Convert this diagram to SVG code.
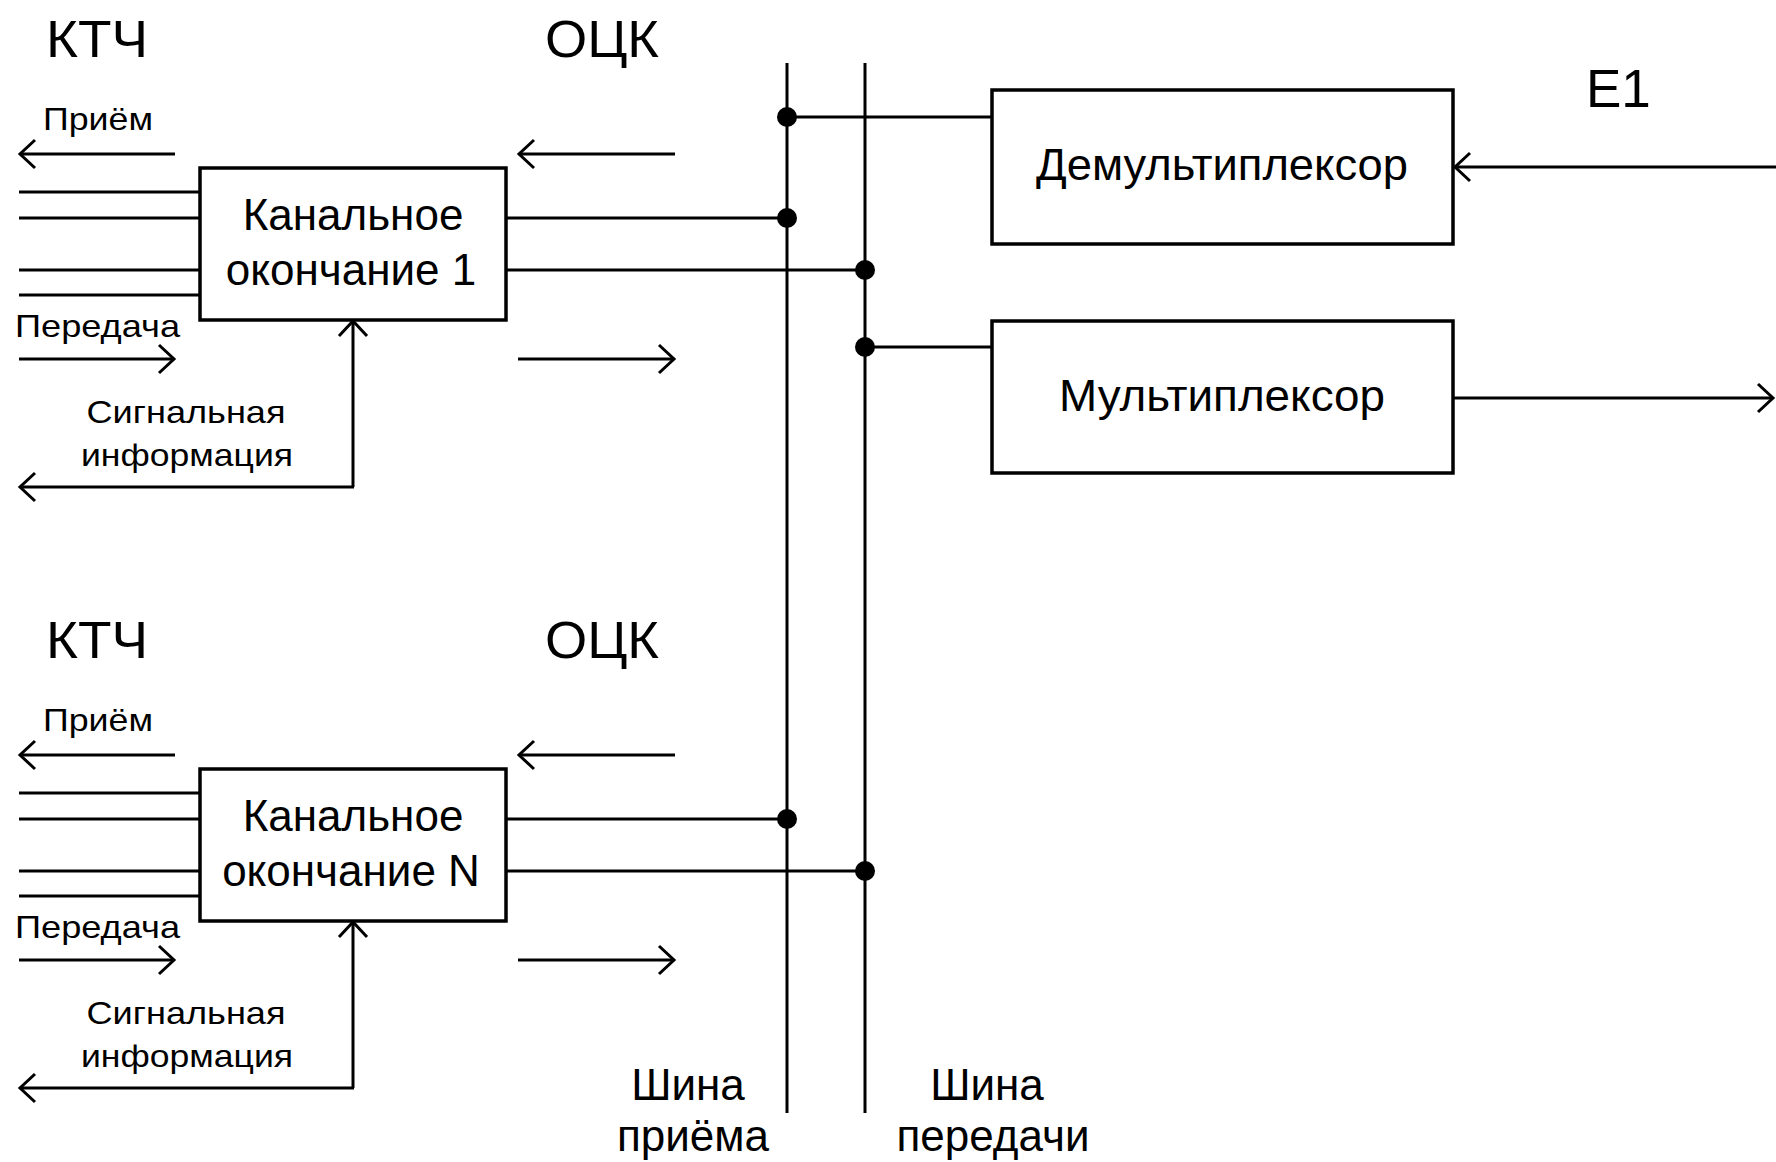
<svg xmlns="http://www.w3.org/2000/svg" width="1776" height="1162" viewBox="0 0 1776 1162">
  <style>
    .ln { stroke: #000; stroke-width: 3; fill: none; }
    .box { stroke: #000; stroke-width: 3.5; fill: #fff; }
    .arr { stroke: #000; stroke-width: 3; fill: none; marker-end: url(#chev); }
    .dot { fill: #000; }
    text { font-family: "Liberation Sans", Arial, sans-serif; fill: #000; }
    .big { font-size: 52px; }
    .mid { font-size: 44px; }
    .sm { font-size: 32px; }
    .c { text-anchor: middle; }
  </style>
  <defs>
    <marker id="chev" markerUnits="userSpaceOnUse" viewBox="-18 -16 20 32" markerWidth="20" markerHeight="32" refX="0" refY="0" orient="auto" overflow="visible">
      <path d="M-15,-14 L0,0 L-15,14" fill="none" stroke="#000" stroke-width="3"/>
    </marker>
  </defs>
  <rect width="1776" height="1162" fill="#fff"/>

  <!-- connectors -->
  <g id="connectors">
    <!-- buses -->
    <line class="ln" x1="787" y1="63" x2="787" y2="1113"/>
    <line class="ln" x1="865" y1="63" x2="865" y2="1113"/>
    <!-- bus taps: demux / mux -->
    <line class="ln" x1="787" y1="117" x2="992" y2="117"/>
    <line class="ln" x1="865" y1="347" x2="992" y2="347"/>
    <!-- E1 in / out -->
    <line class="arr" x1="1776" y1="167" x2="1455" y2="167"/>
    <line class="arr" x1="1453" y1="398" x2="1773" y2="398"/>

    <!-- channel termination 1 -->
    <line class="ln" x1="506" y1="218" x2="787" y2="218"/>
    <line class="ln" x1="506" y1="270" x2="865" y2="270"/>
    <line class="ln" x1="19" y1="192" x2="200" y2="192"/>
    <line class="ln" x1="19" y1="218" x2="200" y2="218"/>
    <line class="ln" x1="19" y1="270" x2="200" y2="270"/>
    <line class="ln" x1="19" y1="295" x2="200" y2="295"/>
    <line class="arr" x1="175" y1="154" x2="20" y2="154"/>
    <line class="arr" x1="675" y1="154" x2="519" y2="154"/>
    <line class="arr" x1="19" y1="359" x2="174" y2="359"/>
    <line class="arr" x1="518" y1="359" x2="674" y2="359"/>
    <line class="ln" x1="353" y1="487" x2="353" y2="322"/>
    <line class="arr" x1="353" y1="322" x2="353" y2="321"/>
    <line class="arr" x1="354" y1="487" x2="20" y2="487"/>

    <!-- channel termination N -->
    <line class="ln" x1="506" y1="819" x2="787" y2="819"/>
    <line class="ln" x1="506" y1="871" x2="865" y2="871"/>
    <line class="ln" x1="19" y1="793" x2="200" y2="793"/>
    <line class="ln" x1="19" y1="819" x2="200" y2="819"/>
    <line class="ln" x1="19" y1="871" x2="200" y2="871"/>
    <line class="ln" x1="19" y1="896" x2="200" y2="896"/>
    <line class="arr" x1="175" y1="755" x2="20" y2="755"/>
    <line class="arr" x1="675" y1="755" x2="519" y2="755"/>
    <line class="arr" x1="19" y1="960" x2="174" y2="960"/>
    <line class="arr" x1="518" y1="960" x2="674" y2="960"/>
    <line class="ln" x1="353" y1="1088" x2="353" y2="923"/>
    <line class="arr" x1="353" y1="923" x2="353" y2="922"/>
    <line class="arr" x1="354" y1="1088" x2="20" y2="1088"/>

    <!-- junction dots -->
    <circle class="dot" cx="787" cy="117" r="10"/>
    <circle class="dot" cx="787" cy="218" r="10"/>
    <circle class="dot" cx="865" cy="270" r="10"/>
    <circle class="dot" cx="865" cy="347" r="10"/>
    <circle class="dot" cx="787" cy="819" r="10"/>
    <circle class="dot" cx="865" cy="871" r="10"/>
  </g>

  <!-- nodes -->
  <g id="ch1">
    <rect class="box" x="200" y="168" width="306" height="152"/>
    <text class="mid c" x="353" y="230">Канальное</text>
    <text class="mid c" x="351" y="285">окончание 1</text>
  </g>
  <g id="chN">
    <rect class="box" x="200" y="769" width="306" height="152"/>
    <text class="mid c" x="353" y="831">Канальное</text>
    <text class="mid c" x="351" y="886">окончание N</text>
  </g>
  <g id="demux">
    <rect class="box" x="992" y="90" width="461" height="154"/>
    <text class="mid c" x="1222" y="180" textLength="372" lengthAdjust="spacingAndGlyphs">Демультиплексор</text>
  </g>
  <g id="mux">
    <rect class="box" x="992" y="321" width="461" height="152"/>
    <text class="mid c" x="1222" y="411" textLength="326" lengthAdjust="spacingAndGlyphs">Мультиплексор</text>
  </g>

  <!-- labels -->
  <g id="labels">
    <text class="big" x="46" y="57" textLength="102" lengthAdjust="spacingAndGlyphs">КТЧ</text>
    <text class="big" x="545" y="57" textLength="114" lengthAdjust="spacingAndGlyphs">ОЦК</text>
    <text class="big" x="46" y="658" textLength="102" lengthAdjust="spacingAndGlyphs">КТЧ</text>
    <text class="big" x="545" y="658" textLength="114" lengthAdjust="spacingAndGlyphs">ОЦК</text>
    <text x="1586" y="107" style="font-size:53px">E1</text>

    <text class="sm" x="43" y="130" textLength="110" lengthAdjust="spacingAndGlyphs">Приём</text>
    <text class="sm" x="15" y="337" textLength="165" lengthAdjust="spacingAndGlyphs">Передача</text>
    <text class="sm c" x="186" y="423" textLength="199" lengthAdjust="spacingAndGlyphs">Сигнальная</text>
    <text class="sm c" x="187" y="466" textLength="212" lengthAdjust="spacingAndGlyphs">информация</text>

    <text class="sm" x="43" y="731" textLength="110" lengthAdjust="spacingAndGlyphs">Приём</text>
    <text class="sm" x="15" y="938" textLength="165" lengthAdjust="spacingAndGlyphs">Передача</text>
    <text class="sm c" x="186" y="1024" textLength="199" lengthAdjust="spacingAndGlyphs">Сигнальная</text>
    <text class="sm c" x="187" y="1067" textLength="212" lengthAdjust="spacingAndGlyphs">информация</text>

    <text class="mid c" x="688" y="1100">Шина</text>
    <text class="mid c" x="693" y="1151">приёма</text>
    <text class="mid c" x="987" y="1100">Шина</text>
    <text class="mid c" x="993" y="1151">передачи</text>
  </g>
</svg>
